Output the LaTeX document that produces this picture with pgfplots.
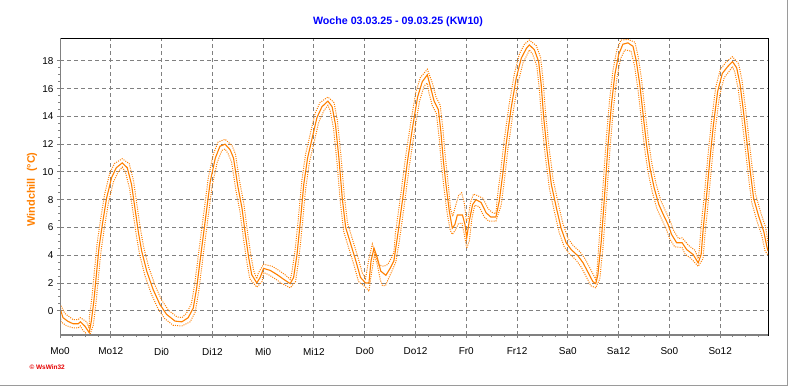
\documentclass[border=0pt]{standalone}
\usepackage{fontspec}
\setmainfont{Liberation Sans}
\usepackage{pgfplots}
\pgfplotsset{compat=1.18}
\definecolor{wsorange}{RGB}{255,128,0}
\definecolor{wsblue}{RGB}{0,0,255}
\definecolor{wsgray}{RGB}{128,128,128}
\definecolor{wsred}{RGB}{230,0,0}
\begin{document}
\begin{tikzpicture}[x=1bp,y=1bp]
\useasboundingbox (0,0) rectangle (792,387);
\fill[white] (0,0) rectangle (792,387);
\draw[wsgray!80, line width=1.2bp] (0,1.2) -- (787.5,1.2) -- (787.5,387);
\node[font=\bfseries\fontsize{10.7}{12}\selectfont, text=wsblue] at (398,365) {Woche 03.03.25 - 09.03.25 (KW10)};
\node[rotate=90, font=\bfseries\fontsize{11}{13}\selectfont, text=wsorange] at (32,197.5) {Windchill\ \ (°C)};
\node[font=\bfseries\fontsize{6.5}{8}\selectfont, text=wsred, anchor=west] at (26,20) {\textcopyright\ WsWin32};
\begin{axis}[
 at={(60bp,52bp)}, anchor=south west,
 scale only axis, width=708bp, height=297bp,
 xmin=0, xmax=167.3, ymin=-1.75, ymax=19.65,
 xtick={0,12,...,156},
 xticklabels={Mo0,Mo12,Di0,Di12,Mi0,Mi12,Do0,Do12,Fr0,Fr12,Sa0,Sa12,So0,So12},
 minor xtick={3,6,...,165},
 ytick={0,2,...,18}, minor y tick num=3,
 grid=major,
 major grid style={wsgray, line width=0.9bp, dash pattern=on 4bp off 3bp},
 tick align=outside, xtick pos=left, ytick pos=left,
 major tick length=3bp, minor tick length=2bp,
 tick style={wsgray, line width=0.9bp},
 axis line style={black, line width=0.9bp},
 ticklabel style={font=\fontsize{10}{12}\selectfont},
 /pgf/number format/assume math mode=true,
 xticklabel style={yshift=-6.5bp},
 clip=true,
]
% main series
\addplot[wsorange, line width=1.1bp] coordinates {
(0,0.2)(0.7,-0.5)(1.9,-0.77)(3.1,-0.94)(4.3,-0.94)(4.8,-0.8)(5.85,-1.1)(6.9,-1.58)(7.4,-0.75)(8.0,0.7)(8.6,2.6)(9.2,4.5)(10.0,6.2)(11.0,8.1)(12.2,9.6)(13.3,10.3)(14.7,10.65)(15.9,10.3)(16.9,9.1)(17.7,7.4)(18.5,5.7)(19.3,4.3)(20.5,2.85)(22,1.53)(23.6,0.45)(25.2,-0.27)(27.2,-0.75)(28.8,-0.8)(30.3,-0.5)(31.5,0.2)(32.3,1.65)(33.1,3.6)(33.9,5.5)(34.7,7.4)(35.5,9.3)(36.7,11.0)(37.8,11.85)(39,12.0)(40.2,11.6)(41.0,11.0)(42.0,9.0)(43.0,7.4)(43.8,5.5)(44.6,3.8)(45.3,2.6)(46.5,2.0)(47.3,2.4)(48.1,3.05)(49.7,2.9)(51.3,2.6)(52.9,2.25)(54.4,1.95)(55.2,2.4)(56,4.05)(56.8,6.45)(57.6,9.1)(58.5,11.0)(59.6,12.45)(60.7,13.9)(61.9,14.7)(63.3,15.1)(64.3,14.7)(65.1,13.4)(65.9,11.0)(66.7,8.1)(67.5,6.0)(68.7,4.8)(69.9,3.6)(71.0,2.4)(72.2,2.0)(73,2.0)(73.5,3.6)(74.2,4.5)(75,3.8)(75.8,2.85)(77,2.55)(78.1,3.1)(78.9,3.6)(79.7,5.25)(80.9,7.9)(82.1,10.75)(83.3,13.2)(84.5,15.4)(85.6,16.5)(86.8,17.0)(87.6,16.05)(88.4,15.1)(89.4,14.5)(90,12.9)(90.6,10.75)(91.2,9.1)(92,7.15)(92.7,5.95)(93.3,6.2)(93.9,6.9)(95.1,6.9)(95.7,6.2)(96.1,5.25)(96.7,6.45)(97.5,7.65)(98.3,8.0)(99.5,7.8)(100.7,7.05)(101.8,6.75)(103.0,6.75)(103.8,7.9)(104.6,9.8)(105.4,11.95)(106.6,14.6)(107.8,16.75)(109.0,18.2)(110.2,18.9)(110.9,19.15)(112.1,18.8)(113.1,17.95)(113.7,16.3)(114.3,13.9)(115.1,11.5)(116.1,9.1)(117.3,7.4)(118.4,5.95)(119.6,4.9)(120.8,4.4)(122.4,3.95)(123.6,3.45)(124.8,2.75)(125.9,2.1)(126.6,1.95)(127.1,2.6)(127.9,5.0)(128.7,8.4)(129.5,11.95)(130.3,14.85)(131.1,17.0)(132.0,18.45)(133.0,19.2)(134.2,19.3)(135.4,19.05)(136.2,17.95)(137.0,16.3)(137.8,14.1)(138.6,11.95)(139.4,10.3)(140.4,8.85)(141.5,7.65)(142.6,6.9)(143.7,6.2)(144.5,5.5)(145.7,4.9)(147.0,4.9)(148.1,4.4)(149.6,4.05)(150.8,3.45)(151.5,4.05)(152.0,5.95)(152.8,8.35)(153.6,11.0)(154.4,13.4)(155.4,15.8)(156.5,17.1)(157.8,17.6)(158.9,17.95)(159.9,17.5)(160.7,16.3)(161.5,14.35)(162.3,12.2)(163.1,10.05)(163.9,8.1)(165.1,6.8)(166.3,5.7)(167.0,4.65)(167.3,4.3)
};
% upper (max) series
\addplot[wsorange, line width=1bp, dash pattern=on 1bp off 1.2bp] coordinates {
(0,0.5)(1.15,-0.2)(2.35,-0.47)(3.1,-0.64)(4.3,-0.64)(4.8,-0.5)(6.3,-0.8)(6.9,-1.28)(6.95,-0.45)(7.55,1.0)(8.15,2.9)(8.75,4.8)(9.55,6.5)(10.55,8.4)(11.75,9.9)(12.85,10.6)(14.7,10.95)(16.35,10.6)(17.35,9.4)(18.15,7.7)(18.95,6.0)(19.75,4.6)(20.95,3.15)(22.45,1.83)(24.05,0.75)(25.65,0.03)(27.65,-0.45)(28.8,-0.5)(29.85,-0.2)(31.05,0.5)(31.85,1.95)(32.65,3.9)(33.45,5.8)(34.25,7.7)(35.05,9.6)(36.25,11.3)(37.35,12.15)(39,12.35)(40.65,11.9)(41.45,11.3)(42.45,9.3)(43.45,7.7)(44.25,5.8)(45.05,4.1)(45.75,2.9)(46.5,2.3)(46.85,2.7)(48.1,3.35)(50.15,3.2)(51.75,2.9)(53.35,2.55)(54.4,2.25)(54.75,2.7)(55.55,4.35)(56.35,6.75)(57.15,9.4)(58.05,11.3)(59.15,12.75)(60.25,14.2)(61.45,15.0)(63.3,15.4)(64.75,15.0)(65.55,13.7)(66.35,11.3)(67.15,8.4)(67.95,6.3)(69.15,5.1)(70.35,3.9)(71.45,2.7)(72.2,2.3)(72.9,3.6)(73.8,4.8)(74.6,4.0)(75.3,3.3)(76.5,3.2)(77.5,3.35)(78.3,3.8)(78.9,4.2)(79.25,5.55)(80.45,8.2)(81.65,11.05)(82.85,13.5)(84.05,15.7)(85.15,16.8)(86.8,17.4)(88.05,16.35)(88.85,15.4)(89.85,14.8)(90.45,13.2)(91.05,11.05)(91.65,9.4)(92.3,7.3)(92.8,6.8)(93.5,7.6)(94.2,8.3)(94.9,8.5)(95.5,7.8)(96.0,6.5)(96.4,6.6)(97.0,7.8)(97.7,8.4)(98.6,8.3)(99.95,8.1)(101.15,7.35)(102.25,7.05)(103.0,7.0)(103.35,8.2)(104.15,10.1)(104.95,12.25)(106.15,14.9)(107.35,17.05)(108.55,18.5)(109.75,19.2)(110.9,19.5)(112.55,19.1)(113.55,18.25)(114.15,16.6)(114.75,14.2)(115.55,11.8)(116.55,9.4)(117.75,7.7)(118.85,6.25)(120.05,5.2)(121.25,4.7)(122.85,4.25)(124.05,3.75)(125.25,3.05)(126.35,2.4)(126.6,2.25)(126.9,2.9)(127.45,5.3)(128.25,8.7)(129.05,12.25)(129.85,15.15)(130.65,17.3)(131.55,18.75)(132.55,19.5)(134.2,19.55)(135.85,19.35)(136.65,18.25)(137.45,16.6)(138.25,14.4)(139.05,12.25)(139.85,10.6)(140.85,9.15)(141.95,7.95)(143.05,7.2)(144.15,6.5)(144.95,5.8)(146.15,5.2)(147.0,5.25)(148.55,4.7)(150.05,4.35)(150.8,3.75)(151.05,4.35)(151.55,6.25)(152.35,8.65)(153.15,11.3)(153.95,13.7)(154.95,16.1)(156.05,17.4)(157.35,17.9)(158.9,18.3)(160.35,17.8)(161.15,16.6)(161.95,14.65)(162.75,12.5)(163.55,10.35)(164.35,8.4)(165.55,7.1)(166.75,6.0)(167.3,4.9)
};
% lower (min) series
\addplot[wsorange, line width=1bp, dash pattern=on 1bp off 1.2bp] coordinates {
(0,-0.1)(0.25,-0.8)(1.45,-1.07)(3.1,-1.24)(4.3,-1.24)(4.8,-1.1)(5.4,-1.4)(6.9,-1.88)(7.85,-1.05)(8.45,0.4)(9.05,2.3)(9.65,4.2)(10.45,5.9)(11.45,7.8)(12.65,9.3)(13.75,10.0)(14.7,10.35)(15.45,10.0)(16.45,8.8)(17.25,7.1)(18.05,5.4)(18.85,4.0)(20.05,2.55)(21.55,1.23)(23.15,0.15)(24.75,-0.57)(26.75,-1.05)(28.8,-1.1)(30.75,-0.8)(31.95,-0.1)(32.75,1.35)(33.55,3.3)(34.35,5.2)(35.15,7.1)(35.95,9.0)(37.15,10.7)(38.25,11.55)(39,11.65)(39.75,11.3)(40.55,10.7)(41.55,8.7)(42.55,7.1)(43.35,5.2)(44.15,3.5)(44.85,2.3)(46.5,1.7)(47.75,2.1)(48.1,2.75)(49.25,2.6)(50.85,2.3)(52.45,1.95)(54.4,1.65)(55.65,2.1)(56.45,3.75)(57.25,6.15)(58.05,8.8)(58.95,10.7)(60.05,12.15)(61.15,13.6)(62.35,14.4)(63.3,14.8)(63.85,14.4)(64.65,13.1)(65.45,10.7)(66.25,7.8)(67.05,5.7)(68.25,4.5)(69.45,3.3)(70.55,2.1)(72.2,1.7)(73.0,1.4)(73.5,2.5)(74.3,4.0)(75.0,3.3)(75.7,2.2)(76.2,1.8)(76.9,1.8)(77.6,2.3)(78.5,2.9)(79.35,3.5)(80.15,4.95)(81.35,7.6)(82.55,10.45)(83.75,12.9)(84.95,15.1)(86.05,16.2)(86.8,16.4)(87.15,15.75)(87.95,14.8)(88.95,14.2)(89.55,12.6)(90.15,10.45)(90.75,8.8)(91.5,7.0)(92.2,5.8)(92.7,5.5)(93.4,5.8)(94.2,6.3)(95.0,6.3)(95.6,5.4)(96.1,4.5)(96.7,5.0)(97.3,6.6)(98.0,7.6)(99.05,7.5)(100.25,6.75)(101.35,6.45)(103.0,6.45)(104.25,7.6)(105.05,9.5)(105.85,11.65)(107.05,14.3)(108.25,16.45)(109.45,17.9)(110.65,18.6)(110.9,18.8)(111.65,18.5)(112.65,17.65)(113.25,16.0)(113.85,13.6)(114.65,11.2)(115.65,8.8)(116.85,7.1)(117.95,5.65)(119.15,4.6)(120.35,4.1)(121.95,3.65)(123.15,3.15)(124.35,2.45)(125.45,1.8)(126.6,1.65)(127.55,2.3)(128.35,4.7)(129.15,8.1)(129.95,11.65)(130.75,14.55)(131.55,16.7)(132.45,18.15)(133.45,18.8)(134.2,18.75)(134.95,18.7)(135.75,17.65)(136.55,16.0)(137.35,13.8)(138.15,11.65)(138.95,10.0)(139.95,8.55)(141.05,7.35)(142.15,6.6)(143.25,5.9)(144.05,5.2)(145.25,4.6)(147.0,4.55)(147.65,4.1)(149.15,3.75)(150.8,3.2)(151.95,3.75)(152.45,5.65)(153.25,8.05)(154.05,10.7)(154.85,13.1)(155.85,15.5)(156.95,16.8)(158.25,17.3)(158.9,17.6)(159.45,17.2)(160.25,16.0)(161.05,14.05)(161.85,11.9)(162.65,9.75)(163.45,7.8)(164.65,6.5)(165.85,5.4)(166.55,4.35)(167.3,4.0)
};
\draw[wsgray, line width=2.6bp] (rel axis cs:0,0) -- (rel axis cs:0,1);
\draw[wsgray, line width=2.2bp] (rel axis cs:0,0) -- (rel axis cs:1,0);
\end{axis}
\end{tikzpicture}
\end{document}
